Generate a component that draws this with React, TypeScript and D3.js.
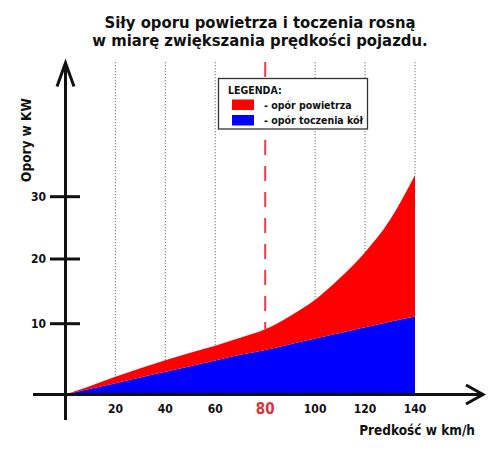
import React, { useRef, useEffect } from "react";
import * as d3 from "d3";

// speed in km/h
const speeds = [0, 10, 20, 30, 40, 50, 60, 70, 80, 90, 100, 110, 120, 130, 140];
// rolling resistance (kW)
const rolling = [0, 0.8, 1.6, 2.4, 3.2, 4.0, 4.8, 5.6, 6.3, 7.1, 7.9, 8.7, 9.5, 10.3, 11.1];
// air resistance (kW)
const air = [0, 0.4, 0.9, 1.3, 1.65, 1.9, 2.1, 2.4, 2.9, 4.1, 5.8, 8.4, 11.6, 16.0, 22.4];

const xTicks = [20, 40, 60, 80, 100, 120, 140];
const yTicks = [10, 20, 30];
const gridTicks = [20, 40, 60, 100, 120, 140];
const markSpeed = 80;

const titleLines = [
  "Siły oporu powietrza i toczenia rosną",
  "w miarę zwiększania prędkości pojazdu.",
];
const legendItems = [
  { key: "air", label: "- opór powietrza", color: "#ff0000" },
  { key: "rolling", label: "- opór toczenia kół", color: "#0000ff" },
];

const FONT = "'DejaVu Sans Condensed', 'DejaVu Sans', sans-serif";

const App: React.FC = () => {
  const ref = useRef<SVGSVGElement | null>(null);

  useEffect(() => {
    if (!ref.current) return;
    const svg = d3.select(ref.current);
    svg.selectAll("*").remove();

    const table = speeds.map((s, i) => ({ speed: s, rolling: rolling[i], air: air[i] }));

    const x = d3.scaleLinear().domain([0, 140]).range([65.5, 415]);
    // the original axis spacing is uneven, so the scale is piecewise
    const y = d3.scaleLinear().domain([0, 10, 20, 30]).range([394.5, 323.7, 259, 196.7]);

    const stacked = d3.stack<any>().keys(["rolling", "air"])(table);
    const area = d3
      .area<any>()
      .x((d) => x(d.data.speed))
      .y0((d) => y(d[0]))
      .y1((d) => y(d[1]))
      .curve(d3.curveMonotoneX);

    svg.attr("font-family", FONT).attr("font-weight", "bold");

    // title
    svg
      .append("g")
      .selectAll("text")
      .data(titleLines)
      .join("text")
      .attr("x", 260)
      .attr("y", (d, i) => 27.5 + i * 18)
      .attr("text-anchor", "middle")
      .attr("font-size", 16.5)
      .attr("fill", "#111")
      .text((d) => d);

    const total = (s: number) => {
      const i = speeds.indexOf(s);
      return rolling[i] + air[i];
    };

    // dotted grid
    svg
      .append("g")
      .selectAll("line")
      .data(gridTicks)
      .join("line")
      .attr("x1", (d) => x(d))
      .attr("x2", (d) => x(d))
      .attr("y1", 62)
      .attr("y2", (d) => y(total(d)))
      .attr("stroke", "#8a8a8a")
      .attr("stroke-width", 1.2)
      .attr("stroke-dasharray", "1.2,1.8");

    // areas
    const colors: Record<string, string> = { rolling: "#0000ff", air: "#ff0000" };
    svg
      .append("g")
      .selectAll("path")
      .data(stacked)
      .join("path")
      .attr("fill", (d) => colors[d.key])
      .attr("d", area as any);

    // red dashed marker
    svg
      .append("line")
      .attr("x1", x(markSpeed))
      .attr("x2", x(markSpeed))
      .attr("y1", 62)
      .attr("y2", y(total(markSpeed)))
      .attr("stroke", "#e0404a")
      .attr("stroke-width", 2)
      .attr("stroke-dasharray", "15,11");

    // legend
    const lg = svg.append("g");
    lg.append("rect")
      .attr("x", 218.5)
      .attr("y", 78.5)
      .attr("width", 149)
      .attr("height", 50.5)
      .attr("fill", "#fff")
      .attr("stroke", "#333")
      .attr("stroke-width", 1.3);
    lg.append("text")
      .attr("x", 228)
      .attr("y", 93.5)
      .attr("font-size", 10.5)
      .attr("fill", "#111")
      .text("LEGENDA:");
    const li = lg
      .selectAll("g.item")
      .data(legendItems)
      .join("g")
      .attr("transform", (d, i) => `translate(0,${i * 15.5})`);
    li.append("rect")
      .attr("x", 232)
      .attr("y", 99.5)
      .attr("width", 22)
      .attr("height", 10.5)
      .attr("fill", (d) => d.color);
    li.append("text")
      .attr("x", 264)
      .attr("y", 108.5)
      .attr("font-size", 10.5)
      .attr("fill", "#111")
      .text((d) => d.label);

    // axes
    const ax = svg.append("g").attr("stroke", "#111").attr("stroke-width", 3).attr("fill", "none");
    ax.append("line").attr("x1", x(0)).attr("x2", x(0)).attr("y1", 63).attr("y2", 420);
    ax.append("path").attr("d", `M${x(0) - 8.5},86.5L${x(0)},63L${x(0) + 8.5},86.5`);
    ax.append("line").attr("x1", 33).attr("x2", 483).attr("y1", y(0)).attr("y2", y(0));
    ax.append("path").attr("d", `M466,385L483,${y(0)}L466,404`);

    ax.selectAll("line.tick")
      .data(yTicks)
      .join("line")
      .attr("x1", 50)
      .attr("x2", 80)
      .attr("y1", (d) => y(d))
      .attr("y2", (d) => y(d));

    svg
      .append("g")
      .selectAll("text")
      .data(yTicks)
      .join("text")
      .attr("x", 46)
      .attr("y", (d) => y(d))
      .attr("dy", "0.35em")
      .attr("text-anchor", "end")
      .attr("font-size", 12)
      .attr("fill", "#111")
      .text((d) => d);

    svg
      .append("g")
      .selectAll("text")
      .data(xTicks)
      .join("text")
      .attr("x", (d) => x(d))
      .attr("y", (d) => (d === markSpeed ? 414 : 412.5))
      .attr("text-anchor", "middle")
      .attr("font-size", (d) => (d === markSpeed ? 15 : 12))
      .attr("fill", (d) => (d === markSpeed ? "#d8333b" : "#111"))
      .text((d) => d);

    svg
      .append("text")
      .attr("x", 475)
      .attr("y", 435)
      .attr("text-anchor", "end")
      .attr("font-size", 13.5)
      .attr("fill", "#111")
      .text("Predkość w km/h");

    svg
      .append("text")
      .attr("transform", "translate(31,140) rotate(-90)")
      .attr("text-anchor", "middle")
      .attr("font-size", 13.5)
      .attr("fill", "#111")
      .text("Opory w KW");
  }, []);

  return <svg ref={ref} width={500} height={449} style={{ position: "absolute", left: 0, top: 0 }} />;
};

export default App;
